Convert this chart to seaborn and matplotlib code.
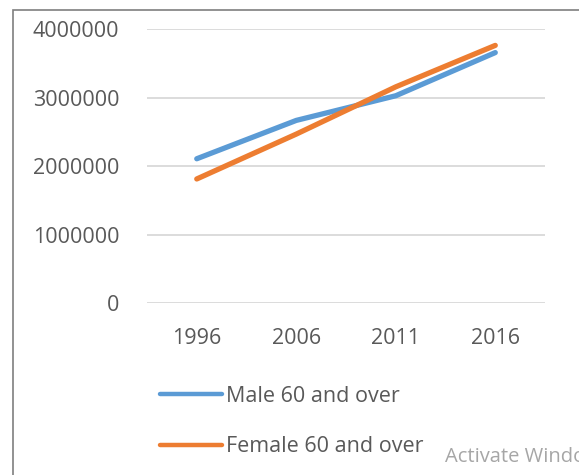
import matplotlib
matplotlib.use("Agg")
import matplotlib.pyplot as plt
import pandas as pd
import seaborn as sns
from matplotlib.patches import Rectangle

years = ["1996", "2006", "2011", "2016"]
male_60_over = [2110000, 2670000, 3030000, 3660000]
female_60_over = [1815000, 2470000, 3160000, 3765000]
series_names = ["Male 60 and over", "Female 60 and over"]
y_ticks = [0, 1000000, 2000000, 3000000, 4000000]

df = pd.DataFrame({
    "year": years * 2,
    "value": male_60_over + female_60_over,
    "series": [series_names[0]] * len(years) + [series_names[1]] * len(years),
})

sns.set_theme(style="white")
plt.rcParams["font.family"] = ["Open Sans", "DejaVu Sans"]
text_color = "#595959"
fsize = 15.5

fig = plt.figure(figsize=(5.79, 4.75), dpi=100)
ax = fig.add_axes([0.2539, 0.3615, 0.6874, 0.5768])

sns.lineplot(
    data=df, x="year", y="value", hue="series", ax=ax,
    palette=["#5B9BD5", "#ED7D31"], linewidth=3.8,
    solid_capstyle="round", sort=False,
)

ax.set_xlim(-0.5, len(years) - 0.5)
ax.set_ylim(0, 4000000)
ax.set_yticks(y_ticks)
ax.set_yticklabels([str(v) for v in y_ticks])
ax.yaxis.grid(True, color="#D9D9D9", linewidth=1.3)
ax.set_axisbelow(True)
for side in ["top", "right", "left", "bottom"]:
    ax.spines[side].set_visible(False)
ax.tick_params(axis="y", length=0, pad=20, labelsize=fsize, labelcolor=text_color)
ax.tick_params(axis="x", length=0, pad=18, labelsize=fsize, labelcolor=text_color)
ax.set_xlabel("")
ax.set_ylabel("")

handles, labels = ax.get_legend_handles_labels()
ax.get_legend().remove()
leg = fig.legend(
    handles, labels, loc="upper left", bbox_to_anchor=(160 / 579, 1 - 386 / 475),
    frameon=False, fontsize=fsize, handlelength=2.88, handletextpad=0.19,
    labelspacing=1.36, labelcolor=text_color, borderaxespad=0, borderpad=0,
)
for line in leg.get_lines():
    line.set_linewidth(3.2)

# screenshot watermark, cut by the right edge as in the source image
fig.text(445 / 579, 1 - 457 / 475, "Activate Windows", fontsize=14.5,
         color="#A6A6A6", va="center", ha="left")

fig.patches.append(Rectangle((13 / 579, -0.1), 1.2, 1.1 - 10 / 475,
                             transform=fig.transFigure, fill=False,
                             edgecolor="#7F7F7F", linewidth=1.2))

fig.savefig("out.png", dpi=100)
